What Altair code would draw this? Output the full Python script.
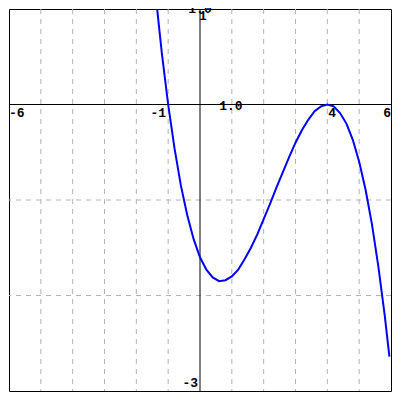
import altair as alt
import pandas as pd

# curve samples
xs = [-1.4, -1.2, -1.0, -0.8, -0.6, -0.4, -0.2, 0.0, 0.2, 0.4, 0.6, 0.8, 1.0, 1.2, 1.4,
      1.6, 1.8, 2.0, 2.2, 2.4, 2.6, 2.8, 3.0, 3.2, 3.4, 3.6, 3.8, 4.0, 4.2, 4.4, 4.6,
      4.8, 5.0, 5.2, 5.4, 5.6, 5.8, 5.95]
ys = [1.17, 0.54, 0.0, -0.46, -0.85, -1.16, -1.41, -1.60, -1.73, -1.81, -1.85, -1.84,
      -1.80, -1.73, -1.62, -1.50, -1.36, -1.20, -1.04, -0.87, -0.71, -0.55, -0.40,
      -0.27, -0.16, -0.07, -0.02, 0.0, -0.02, -0.09, -0.20, -0.37, -0.60, -0.89,
      -1.25, -1.69, -2.20, -2.64]

grid_x = [-5, -4, -3, -2, -1, 1, 2, 3, 4, 5]
grid_y = [-2, -1]

X_DOMAIN = [-6, 6]
Y_DOMAIN = [-3, 1]

xsc = alt.Scale(domain=X_DOMAIN, nice=False, zero=False)
ysc = alt.Scale(domain=Y_DOMAIN, nice=False, zero=False)

curve = pd.DataFrame({"x": xs, "y": ys})
gx = pd.DataFrame({"x": grid_x})
gy = pd.DataFrame({"y": grid_y})

FONT = "Liberation Mono"

vgrid = alt.Chart(gx).mark_rule(color="#b4b4b4", strokeDash=[5, 5], strokeWidth=1).encode(
    x=alt.X("x:Q", scale=xsc, axis=None))
hgrid = alt.Chart(gy).mark_rule(color="#b4b4b4", strokeDash=[5, 5], strokeWidth=1).encode(
    y=alt.Y("y:Q", scale=ysc, axis=None))

xaxis = alt.Chart(pd.DataFrame({"y": [0]})).mark_rule(color="black", strokeWidth=1).encode(
    y=alt.Y("y:Q", scale=ysc, axis=None))
yaxis = alt.Chart(pd.DataFrame({"x": [0]})).mark_rule(color="black", strokeWidth=1).encode(
    x=alt.X("x:Q", scale=xsc, axis=None))

line = alt.Chart(curve).mark_line(color="#0000ff", strokeWidth=2, clip=True).encode(
    x=alt.X("x:Q", scale=xsc, axis=None),
    y=alt.Y("y:Q", scale=ysc, axis=None),
    order="x:Q")


def label(text, x, y, align, baseline, dx=0, dy=0):
    return alt.Chart(pd.DataFrame({"x": [x], "y": [y], "t": [text]})).mark_text(
        font=FONT, fontSize=13, fontWeight="bold", color="black",
        align=align, baseline=baseline, dx=dx, dy=dy).encode(
        x=alt.X("x:Q", scale=xsc, axis=None),
        y=alt.Y("y:Q", scale=ysc, axis=None),
        text="t:N")


labels = [
    label("-6", -6, 0, "left", "top", dx=0, dy=2),
    label("-1", -1, 0, "right", "top", dx=-2, dy=2),
    label("4", 4, 0, "left", "top", dx=1, dy=2),
    label("6", 6, 0, "right", "top", dx=0, dy=2),
    label("1.0", 1, 0, "center", "middle", dx=-1, dy=1),
    label("1.0", 0, 1, "center", "bottom", dx=0, dy=7),
    label("1", 0, 1, "left", "top", dx=-1, dy=1),
    label("-3", 0, -3, "right", "bottom", dx=-2, dy=-1),
]

chart = alt.layer(vgrid, hgrid, xaxis, yaxis, line, *labels).properties(
    width=382, height=382,
    autosize=alt.AutoSizeParams(type="none"),
    padding=1,
    background="white",
).configure_view(stroke="black", strokeWidth=1)

chart.save("out.html", embed_options={"renderer": "svg", "actions": False})
